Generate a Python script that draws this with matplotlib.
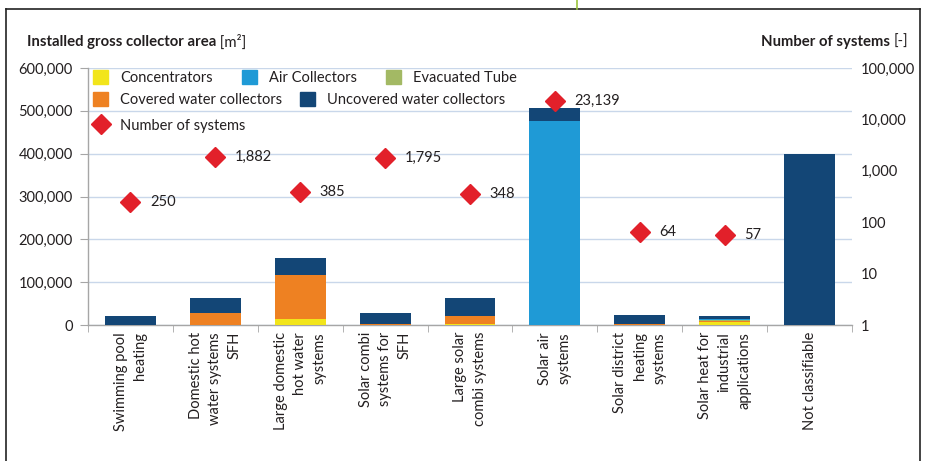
import numpy as np
import matplotlib
matplotlib.use("Agg")
import matplotlib.pyplot as plt
from matplotlib.patches import Patch
from matplotlib.lines import Line2D
from matplotlib.ticker import FuncFormatter, FixedLocator, NullFormatter

plt.rcParams['font.family'] = ['Lato', 'DejaVu Sans']

categories = [
    "Swimming pool\nheating",
    "Domestic hot\nwater systems\nSFH",
    "Large domestic\nhot water\nsystems",
    "Solar combi\nsystems for\nSFH",
    "Large solar\ncombi systems",
    "Solar air\nsystems",
    "Solar district\nheating\nsystems",
    "Solar heat for\nindustrial\napplications",
    "Not classifiable",
]

concentrators = [0, 0, 13000, 0, 1500, 0, 0, 8000, 0]
covered_water = [0, 27000, 103000, 2500, 18500, 0, 2000, 1000, 0]
evacuated_tube = [0, 0, 0, 0, 0, 0, 0, 2500, 0]
air_collectors = [0, 0, 0, 0, 0, 477000, 0, 2500, 0]
uncovered_water = [21000, 37000, 40000, 26500, 43000, 29000, 21000, 8000, 400000]

num_systems = [250, 1882, 385, 1795, 348, 23139, 64, 57]
num_labels = ["250", "1,882", "385", "1,795", "348", "23,139", "64", "57"]

left_ticks = [0, 100000, 200000, 300000, 400000, 500000, 600000]
right_ticks = [1, 10, 100, 1000, 10000, 100000]

C_CONC = "#f2e51b"
C_AIR = "#1f9ad6"
C_EVAC = "#a3b964"
C_COV = "#ee8122"
C_UNC = "#134676"
C_RED = "#e2202a"
GRID = "#c9d7ea"
TXT = "#231f20"

fig = plt.figure(figsize=(9.25, 4.61), dpi=100)
ax = fig.add_axes([88/925, 1-325/461, (852-88)/925, (325-68)/461])

x = np.arange(len(categories))
w = 0.6
series = [
    (concentrators, C_CONC, "Concentrators"),
    (covered_water, C_COV, "Covered water collectors"),
    (evacuated_tube, C_EVAC, "Evacuated Tube"),
    (air_collectors, C_AIR, "Air Collectors"),
    (uncovered_water, C_UNC, "Uncovered water collectors"),
]
bottom = np.zeros(len(categories))
for vals, col, lab in series:
    v = np.array(vals, dtype=float)
    ax.bar(x, v, w, bottom=bottom, color=col, zorder=3, linewidth=0)
    bottom += v

ax.set_xlim(-0.5, len(categories) - 0.5)
ax.set_ylim(0, 600000)
ax.yaxis.set_major_locator(FixedLocator(left_ticks))
ax.yaxis.set_major_formatter(FuncFormatter(lambda v, p: f"{int(v):,}"))
ax.grid(axis='y', color=GRID, linewidth=1, zorder=0)
ax.set_axisbelow(True)
for s in ['top', 'right']:
    ax.spines[s].set_visible(False)
for s in ['left', 'bottom']:
    ax.spines[s].set_color("#a6a6a6")
    ax.spines[s].set_linewidth(1)
ax.tick_params(axis='y', length=6, color="#a6a6a6", labelsize=10.5, labelcolor=TXT, pad=5)

ax.set_xticks(x)
ax.set_xticklabels(categories, rotation=90, ha='center', va='top',
                   multialignment='right', linespacing=1.5, fontsize=10.5, color=TXT)
ax.tick_params(axis='x', which='major', length=0, pad=5)
ax.set_xticks(np.arange(-0.5, len(categories) + 0.5, 1), minor=True)
ax.tick_params(axis='x', which='minor', length=5, color="#a6a6a6")

ax2 = ax.twinx()
ax2.set_yscale('log')
ax2.set_ylim(1, 100000)
ax2.yaxis.set_major_locator(FixedLocator(right_ticks))
ax2.yaxis.set_major_formatter(FuncFormatter(lambda v, p: f"{int(round(v)):,}"))
ax2.yaxis.set_minor_formatter(NullFormatter())
ax2.tick_params(axis='y', which='both', length=0, labelsize=10.5, labelcolor=TXT, pad=6)
for s in ax2.spines.values():
    s.set_visible(False)

xs = x[:len(num_systems)]
ax2.plot(xs, num_systems, linestyle='none', marker='D', markersize=10,
         color=C_RED, zorder=5)
for xi, yi, lab in zip(xs, num_systems, num_labels):
    ax2.annotate(lab, (xi, yi), xytext=(14, 0), textcoords='offset points',
                 ha='left', va='center', fontsize=10.5, color=TXT)

# legends (row-based like the original)
fs = 10.5
common = dict(frameon=False, fontsize=fs, handlelength=1.05, handleheight=1.05,
              handletextpad=0.8, borderaxespad=0, borderpad=0, labelcolor=TXT)
h1 = [Patch(color=C_CONC), Patch(color=C_AIR), Patch(color=C_EVAC)]
l1 = ["Concentrators", "Air Collectors", "Evacuated Tube"]
leg1 = ax2.legend(h1, l1, ncol=3, loc='upper left', columnspacing=2.0,
                  bbox_to_anchor=(93/925, 1-70/461), bbox_transform=fig.transFigure, **common)
ax2.add_artist(leg1)
h2 = [Patch(color=C_COV), Patch(color=C_UNC)]
l2 = ["Covered water collectors", "Uncovered water collectors"]
leg2 = ax2.legend(h2, l2, ncol=2, loc='upper left', columnspacing=1.2,
                  bbox_to_anchor=(93/925, 1-92/461), bbox_transform=fig.transFigure, **common)
ax2.add_artist(leg2)
h3 = [Line2D([], [], linestyle='none', marker='D', markersize=10, color=C_RED)]
leg3 = ax2.legend(h3, ["Number of systems"], loc='upper left',
                  bbox_to_anchor=(93/925, 1-118/461), bbox_transform=fig.transFigure, **common)

# axis titles
t1 = fig.text(27/925, 1-42/461, "Installed gross collector area", fontsize=10.7,
              fontweight='bold', color=TXT, ha='left', va='center')
ax.annotate(" [m²]", xy=(1, 0.5), xycoords=t1, ha='left', va='center',
            fontsize=10.7, color=TXT)
t2 = fig.text(908/925, 1-42/461, "[-]", fontsize=10.7, color=TXT, ha='right', va='center')
ax.annotate("Number of systems ", xy=(0, 0.5), xycoords=t2, ha='right', va='center',
            fontsize=10.7, fontweight='bold', color=TXT)

# frame
fig.add_artist(Line2D([6/925, 6/925], [0, 1-9/461], color='#222222', lw=1.2, transform=fig.transFigure))
fig.add_artist(Line2D([6/925, 920/925], [1-9/461, 1-9/461], color='#222222', lw=1.2, transform=fig.transFigure))
fig.add_artist(Line2D([920/925, 920/925], [0, 1-9/461], color='#222222', lw=1.2, transform=fig.transFigure))
fig.add_artist(Line2D([577/925, 577/925], [1-9/461, 1], color='#9bc33c', lw=1.2, transform=fig.transFigure))

fig.savefig("out.png", dpi=100)
